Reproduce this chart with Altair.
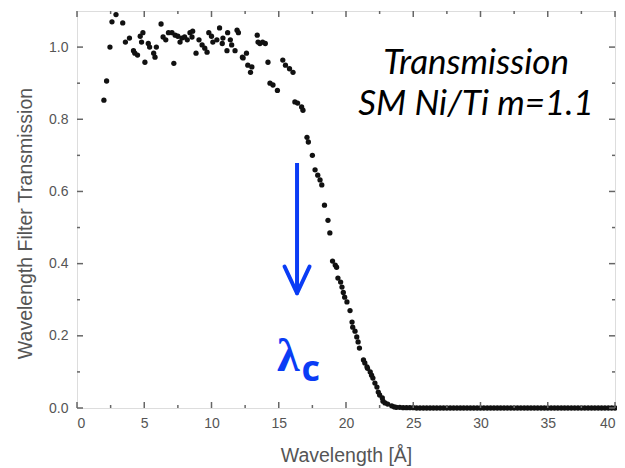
import altair as alt
import pandas as pd

# ---- measured data (wavelength in Å, transmission) ----
wavelength = [
    2.0, 2.2, 2.45, 2.6, 2.9, 3.4, 3.6, 3.9, 4.2, 4.3, 4.5, 4.7, 4.8, 4.9, 5.05,
    5.3, 5.4, 5.7, 5.8, 5.9, 6.25, 6.4, 6.6, 6.8, 7.06, 7.2, 7.3, 7.5, 7.66, 7.8,
    8.0, 8.2, 8.4, 8.55, 8.6, 8.85, 9.07, 9.3, 9.5, 9.67, 9.8, 10.0, 10.1, 10.4,
    10.6, 10.8, 10.85, 11.15, 11.2, 11.4, 11.5, 11.75, 11.9, 12.0, 12.3, 12.35,
    12.6, 12.7, 12.9, 13.0, 13.4, 13.46, 13.6, 13.8, 14.0, 14.2, 14.35, 14.57,
    14.9, 15.3, 15.5, 15.8, 16.06, 16.2, 16.4, 16.7, 16.8, 17.1, 17.2, 17.5, 17.7,
    17.9, 18.07, 18.2, 18.4, 18.66, 18.8, 19.0, 19.2, 19.3, 19.4, 19.6, 19.7, 19.8,
    19.9, 20.07, 20.3, 20.45, 20.5, 20.67, 20.8, 20.9, 21.0, 21.3, 21.4, 21.56,
    21.6, 21.8, 21.9, 22.0, 22.15, 22.3, 22.4, 22.5, 22.7, 22.75, 22.9, 23.1, 23.4,
    23.6,
]
transmission = [
    0.853, 0.906, 1.0, 1.07, 1.09, 1.067, 1.014, 1.025, 0.99, 0.983, 0.978, 1.03,
    1.014, 1.04, 0.958, 1.01, 1.0, 0.983, 0.972, 1.0, 1.064, 1.028, 1.02, 1.04,
    1.04, 0.955, 1.033, 1.03, 1.014, 1.025, 1.028, 1.02, 1.04, 1.028, 1.044, 0.983,
    1.02, 1.006, 0.997, 0.986, 1.04, 1.03, 1.014, 1.02, 1.053, 1.01, 1.025, 0.99,
    1.04, 1.02, 1.006, 0.99, 1.047, 1.04, 0.972, 0.97, 0.983, 0.95, 0.93, 0.945,
    1.033, 1.014, 1.01, 1.014, 1.01, 0.958, 0.9, 0.895, 0.88, 0.964, 0.95, 0.94,
    0.93, 0.848, 0.845, 0.834, 0.825, 0.75, 0.737, 0.70, 0.66, 0.645, 0.632, 0.618,
    0.562, 0.52, 0.485, 0.407, 0.396, 0.39, 0.36, 0.349, 0.335, 0.32, 0.307, 0.294,
    0.27, 0.238, 0.224, 0.213, 0.197, 0.183, 0.166, 0.133, 0.125, 0.114, 0.11, 0.10,
    0.091, 0.083, 0.069, 0.058, 0.044, 0.036, 0.028, 0.019, 0.014, 0.011, 0.006,
    0.003,
]
tail_wavelength = [
    23.75, 24.0, 24.25, 24.5, 24.75, 25.0, 25.25, 25.5, 25.75, 26.0, 26.25, 26.5,
    26.75, 27.0, 27.25, 27.5, 27.75, 28.0, 28.25, 28.5, 28.75, 29.0, 29.25, 29.5,
    29.75, 30.0, 30.25, 30.5, 30.75, 31.0, 31.25, 31.5, 31.75, 32.0, 32.25, 32.5,
    32.75, 33.0, 33.25, 33.5, 33.75, 34.0, 34.25, 34.5, 34.75, 35.0, 35.25, 35.5,
    35.75, 36.0, 36.25, 36.5, 36.75, 37.0, 37.25, 37.5, 37.75, 38.0, 38.25, 38.5,
    38.75, 39.0, 39.25, 39.5, 39.75, 40.0,
]
tail_transmission = [
    0.002, 0.002, 0.001, 0.001, 0.001, 0.001, 0.0, 0.0, 0.0, 0.0, 0.0, 0.0,
    0.0, 0.0, 0.0, 0.0, 0.0, 0.0, 0.0, 0.0, 0.0, 0.0, 0.0, 0.0,
    0.0, 0.0, 0.0, 0.0, 0.0, 0.0, 0.0, 0.0, 0.0, 0.0, 0.0, 0.0,
    0.0, 0.0, 0.0, 0.0, 0.0, 0.0, 0.0, 0.0, 0.0, 0.0, 0.0, 0.0,
    0.0, 0.0, 0.0, 0.0, 0.0, 0.0, 0.0, 0.0, 0.0, 0.0, 0.0, 0.0,
    0.0, 0.0, 0.0, 0.0, 0.0, 0.0,
]

# tick positions
x_major = [0, 5, 10, 15, 20, 25, 30, 35, 40]
x_minor = [2.5, 7.5, 12.5, 17.5, 22.5, 27.5, 32.5, 37.5]
y_major = [0.0, 0.2, 0.4, 0.6, 0.8, 1.0]
y_minor = [0.1, 0.3, 0.5, 0.7, 0.9]

# annotations
title_lines = ["Transmission", "SM Ni/Ti m=1.1"]
title_x = [29.67, 29.67]
title_y = [0.925, 0.812]

arrow_x = 16.36
arrow_top = 0.679
arrow_tip = 0.318
arm_left = 15.43
arm_right = 17.29
arm_y = 0.392

BLUE = "#0a3cf5"
W, H = 538, 397

xs = alt.Scale(domain=[0, 40], nice=False, zero=False)
ys = alt.Scale(domain=[0, 1.1], nice=False, zero=False)

x_axis = alt.Axis(
    values=x_major, format="d", ticks=False, tickSize=0, domain=False, grid=False,
    labelFont="Liberation Sans", labelFontSize=14, labelColor="#555555",
    labelPadding=8, title="Wavelength [Å]", titleFont="Liberation Sans",
    titleFontSize=19.5, titleFontWeight="normal", titleColor="#555555",
    titleX=W / 2, titleY=47, titleBaseline="middle", titleAlign="center")
y_axis = alt.Axis(
    values=y_major, format=".1f", ticks=False, tickSize=0, domain=False, grid=False,
    labelFont="Liberation Sans", labelFontSize=14, labelColor="#555555",
    labelPadding=9, title="Wavelength Filter Transmission",
    titleFont="Liberation Sans", titleFontSize=19.5, titleFontWeight="normal",
    titleColor="#555555", titleAngle=270, titleX=-52, titleY=212,
    titleBaseline="middle", titleAlign="center")

pts_df = pd.DataFrame({
    "wl": wavelength + tail_wavelength,
    "tr": transmission + tail_transmission,
})

points = alt.Chart(pts_df).mark_circle(size=28, color="#111111", opacity=1).encode(
    x=alt.X("wl:Q", scale=xs, axis=x_axis),
    y=alt.Y("tr:Q", scale=ys, axis=y_axis),
)

tick_col = "#666666"

def xticks(vals, y0, y1):
    return alt.Chart(pd.DataFrame({"v": vals})).mark_rule(color=tick_col, strokeWidth=1.5).encode(
        x=alt.X("v:Q", scale=xs, axis=x_axis), y=alt.value(y0), y2=alt.value(y1))

def yticks(vals, x0, x1):
    return alt.Chart(pd.DataFrame({"v": vals})).mark_rule(color=tick_col, strokeWidth=1.5).encode(
        y=alt.Y("v:Q", scale=ys, axis=y_axis), x=alt.value(x0), x2=alt.value(x1))

ticks = [
    xticks(x_major, H, H - 6), xticks(x_minor, H, H - 3),
    xticks(x_major, 0, 6), xticks(x_minor, 0, 3),
    yticks(y_major, 0, 6), yticks(y_minor, 0, 3),
    yticks(y_major, W, W - 6), yticks(y_minor, W, W - 3),
]

label_df = pd.DataFrame({"x": title_x, "y": title_y, "t": title_lines})
labels = alt.Chart(label_df).mark_text(
    font="Lato", fontStyle="italic", fontSize=35, align="center",
    baseline="alphabetic", color="#000000").encode(
    x=alt.X("x:Q", scale=xs, axis=x_axis), y=alt.Y("y:Q", scale=ys, axis=y_axis), text="t:N")

shaft_df = pd.DataFrame({"x": [arrow_x], "y": [arrow_top], "y2": [arrow_tip]})
shaft = alt.Chart(shaft_df).mark_rule(color=BLUE, strokeWidth=4).encode(
    x=alt.X("x:Q", scale=xs, axis=x_axis), y=alt.Y("y:Q", scale=ys, axis=y_axis), y2="y2:Q")

arms_df = pd.DataFrame({"x": [arm_left, arm_right], "y": [arm_y, arm_y],
                        "x2": [arrow_x, arrow_x], "y2": [arrow_tip, arrow_tip]})
arms = alt.Chart(arms_df).mark_rule(color=BLUE, strokeWidth=4, strokeCap="round").encode(
    x=alt.X("x:Q", scale=xs, axis=x_axis), y=alt.Y("y:Q", scale=ys, axis=y_axis),
    x2="x2:Q", y2="y2:Q")

lam_df = pd.DataFrame({"x": [14.87], "y": [0.102], "t": ["λ"]})
lam = alt.Chart(lam_df).mark_text(
    font="Liberation Serif", fontWeight="bold", fontSize=46, align="left",
    baseline="alphabetic", color=BLUE).encode(
    x=alt.X("x:Q", scale=xs, axis=x_axis), y=alt.Y("y:Q", scale=ys, axis=y_axis), text="t:N")

sub_df = pd.DataFrame({"x": [16.7], "y": [0.075], "t": ["c"]})
sub = alt.Chart(sub_df).mark_text(
    font="Open Sans", fontWeight="bold", fontSize=36, align="left",
    baseline="alphabetic", color=BLUE).encode(
    x=alt.X("x:Q", scale=xs, axis=x_axis), y=alt.Y("y:Q", scale=ys, axis=y_axis), text="t:N")

chart = alt.layer(points, *ticks, labels, shaft, arms, lam, sub).properties(
    width=W, height=H,
    autosize=alt.AutoSizeParams(type="none"),
    padding={"left": 69, "top": 3, "right": 2, "bottom": 58},
).configure_view(stroke="#666666", strokeWidth=2).configure(background="white")

chart.save("out.html", embed_options={"renderer": "svg", "actions": False})
